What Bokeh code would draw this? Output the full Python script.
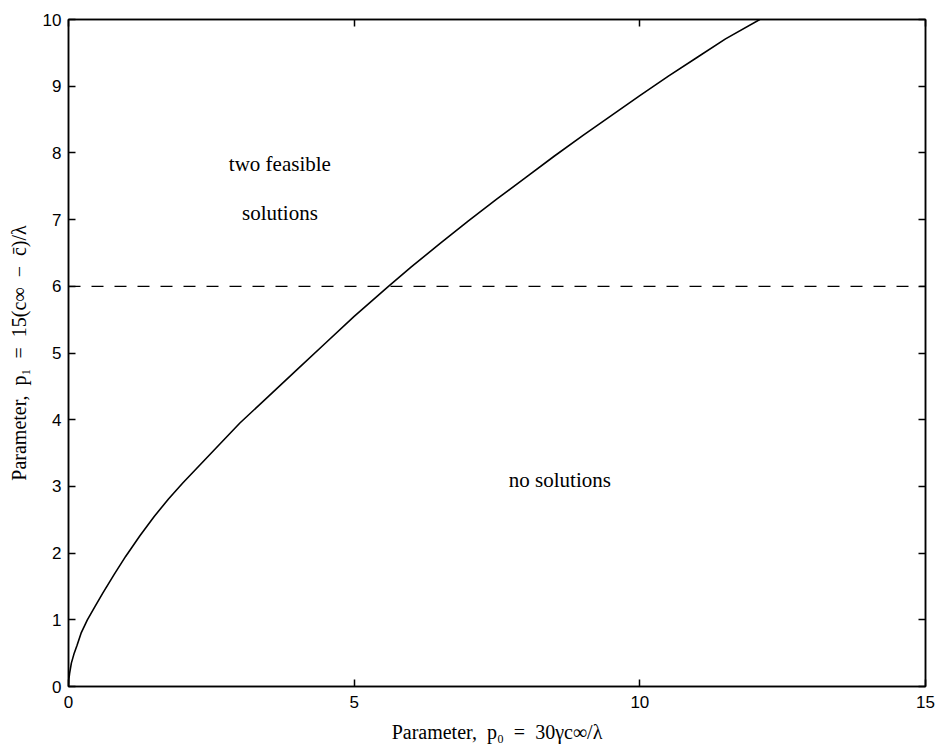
from bokeh.plotting import figure
from bokeh.models import LinearAxis, Range1d, FixedTicker, Label
from bokeh.embed import file_html
from bokeh.resources import INLINE

# boundary curve between regions
curve_p0 = [0.0, 0.005, 0.02, 0.05, 0.1, 0.15, 0.22, 0.33, 0.45, 0.6, 0.8, 1.0, 1.25, 1.5,
            1.75, 2.0, 2.5, 3.0, 3.5, 4.0, 4.5, 5.0, 5.6, 6.0, 6.5, 7.0, 7.5, 8.0, 8.5,
            9.0, 9.5, 10.0, 10.5, 11.0, 11.5, 12.1]
curve_p1 = [0.0, 0.1, 0.2, 0.35, 0.5, 0.62, 0.8, 1.0, 1.18, 1.4, 1.68, 1.95, 2.26, 2.55,
            2.81, 3.05, 3.5, 3.95, 4.35, 4.75, 5.15, 5.55, 6.0, 6.29, 6.64, 6.98, 7.31, 7.63,
            7.95, 8.26, 8.56, 8.86, 9.15, 9.43, 9.71, 10.0]
# dashed level
dash_p0 = [0.0, 15.0]
dash_p1 = [6.0, 6.0]

x_ticks = [0, 5, 10, 15]
y_ticks = [0, 1, 2, 3, 4, 5, 6, 7, 8, 9, 10]

region_labels = ["two feasible", "solutions", "no solutions"]
region_x = [3.7, 3.7, 8.6]
region_y = [7.84, 7.1, 3.09]

SP = "\u2002"
xlabel = "Parameter," + SP + "p\u2080" + SP + "=" + SP + "30\u03b3c\u221e/\u03bb"
ylabel = ("Parameter," + SP + "p\u2081" + SP + "=" + SP + "15(c\u221e" + SP + "\u2212" + SP
          + "c\u0304)/\u03bb")

p = figure(width=937, height=755, output_backend="svg", toolbar_location=None,
           x_range=Range1d(0, 15), y_range=Range1d(0, 10),
           min_border_left=68, min_border_right=12, min_border_top=19, min_border_bottom=69)
p.grid.visible = False
p.background_fill_color = "white"
p.border_fill_color = "white"
p.outline_line_color = "black"
p.outline_line_width = 1.5

tick_font = "Liberation Sans"
serif = "Liberation Serif"

for ax, ticks in ((p.xaxis[0], x_ticks), (p.yaxis[0], y_ticks)):
    ax.ticker = FixedTicker(ticks=ticks)
    ax.major_tick_in = 7
    ax.major_tick_out = 0
    ax.minor_tick_line_color = None
    ax.axis_line_width = 1.5
    ax.major_tick_line_width = 1.5
    ax.major_label_text_font = tick_font
    ax.major_label_text_font_size = "17px"
    ax.major_label_text_color = "black"
    ax.axis_label_text_font = serif
    ax.axis_label_text_font_style = "normal"
    ax.axis_label_text_font_size = "20px"
    ax.axis_label_text_color = "black"

p.xaxis[0].axis_label = xlabel
p.yaxis[0].axis_label = ylabel
p.xaxis[0].major_label_standoff = 9
p.yaxis[0].major_label_standoff = 7
p.xaxis[0].axis_label_standoff = 10
p.yaxis[0].axis_label_standoff = 10

# tick marks on the right and top sides, with no labels (drawn as minor ticks)
for loc, ticks in (("right", y_ticks), ("above", x_ticks)):
    ax = LinearAxis(ticker=FixedTicker(ticks=[], minor_ticks=ticks))
    ax.major_tick_line_color = None
    ax.minor_tick_in = 7
    ax.minor_tick_out = 0
    ax.minor_tick_line_width = 1.5
    ax.minor_tick_line_color = "black"
    ax.axis_line_width = 1.5
    p.add_layout(ax, loc)

p.line(curve_p0, curve_p1, line_color="black", line_width=1.6)
p.line(dash_p0, dash_p1, line_color="black", line_width=1.3, line_dash="12 11")

for t, x, y in zip(region_labels, region_x, region_y):
    p.add_layout(Label(x=x, y=y, text=t, text_font=serif, text_font_size="21px",
                       text_align="center", text_baseline="middle", text_color="black"))

open("out.html", "w").write(file_html(p, INLINE))
